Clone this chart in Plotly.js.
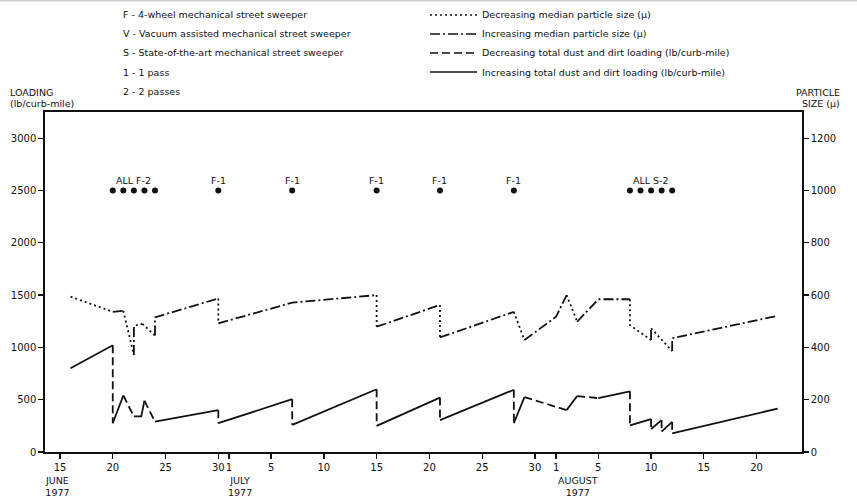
<!DOCTYPE html>
<html><head><meta charset="utf-8">
<script src="https://cdn.plot.ly/plotly-3.0.1.min.js"></script>
<style>html,body{margin:0;padding:0;background:#fff}</style>
</head><body><div id="chart" style="width:857px;height:499px"></div>
<script>
// x = days counted from June 1, 1977 (June d = d, July d = 30+d, August d = 61+d)
const tickDays = [15,20,25,30,31,35,40,45,50,55,60,62,66,71,76,81];
const tickLabels = ["15","20","25","30","1","5","10","15","20","25","30","1","5","10","15","20"];
const monthDays = [14.8, 32.1, 64.1];
const monthLabels = ["JUNE<br>1977","JULY<br>1977","AUGUST<br>1977"];

// Total dust and dirt loading (lb/curb-mile)
const loadDays   = [16, 20, 20, 21, 22, 22.7, 23, 24, 30, 30, 37, 37, 45, 45, 51, 51, 58, 58, 59, 63, 64, 66, 69, 69, 71, 71, 72, 72, 73, 73, 83];
const loadValues = [800, 1020, 275, 540, 340, 340, 490, 290, 400, 275, 505, 260, 600, 250, 520, 305, 595, 275, 525, 400, 535, 515, 580, 255, 315, 220, 305, 195, 288, 178, 415];

// Median particle size (micron)
const sizeDays   = [16, 20, 21, 22, 22, 22.8, 24, 24, 30, 30, 37, 45, 45, 51, 51, 58, 59, 62, 63, 64, 66, 69, 69, 71, 71, 73, 73, 83];
const sizeValues = [594, 536, 540, 371, 482, 490, 445, 515, 587, 492, 571, 600, 479, 562, 438, 536, 428, 517, 600, 498, 584, 584, 485, 428, 473, 386, 435, 521];

// Sweeping events
const sweepDays = [20,21,22,23,24,30,37,45,51,58,69,70,71,72,73];
const sweepLevel = 2500;
const sweepLabelDays = [22,30,37,45,51,58,71];
const sweepLabels = ["ALL F-2","F-1","F-1","F-1","F-1","F-1","ALL S-2"];

const keyLeft = ["F - 4-wheel mechanical street sweeper","V - Vacuum assisted mechanical street sweeper","S - State-of-the-art mechanical street sweeper","1 - 1 pass","2 - 2 passes"];
const keyRight = ["Decreasing median particle size (\u03bc)","Increasing median particle size (\u03bc)","Decreasing total dust and dirt loading (lb/curb-mile)","Increasing total dust and dirt loading (lb/curb-mile)"];

const INK = '#111';
const FONT = 'DejaVu Sans, Verdana, sans-serif';
const DOT = '2px,3px', DASHDOT = '10px,3px,2px,3px', DASH = '8px,4px';
const keyDash = [DOT, DASHDOT, DASH, 'solid'];

function split(xs, ys, rising){
  const X=[],Y=[];
  for(let i=0;i<xs.length-1;i++){
    const up = ys[i+1] >= ys[i];
    if(up !== rising) continue;
    const n = X.length;
    if(n && X[n-1]===xs[i] && Y[n-1]===ys[i]){ X.push(xs[i+1]); Y.push(ys[i+1]); }
    else { if(n){X.push(null);Y.push(null);} X.push(xs[i],xs[i+1]); Y.push(ys[i],ys[i+1]); }
  }
  return {X,Y};
}

const sizeDown = split(sizeDays, sizeValues, false);
const sizeUp = split(sizeDays, sizeValues, true);
const loadDown = split(loadDays, loadValues, false);
const loadUp = split(loadDays, loadValues, true);

const lw = 1.8;
const traces = [
  {x:sizeDown.X, y:sizeDown.Y, yaxis:'y2', mode:'lines', name:keyRight[0], line:{color:INK,width:lw,dash:DOT}, connectgaps:false},
  {x:sizeUp.X, y:sizeUp.Y, yaxis:'y2', mode:'lines', name:keyRight[1], line:{color:INK,width:lw,dash:DASHDOT}, connectgaps:false},
  {x:loadDown.X, y:loadDown.Y, mode:'lines', name:keyRight[2], line:{color:INK,width:lw,dash:DASH}, connectgaps:false},
  {x:loadUp.X, y:loadUp.Y, mode:'lines', name:keyRight[3], line:{color:INK,width:lw,dash:'solid'}, connectgaps:false},
  {x:sweepDays, y:sweepDays.map(()=>sweepLevel), mode:'markers', name:'Sweeping', marker:{color:INK,size:6}}
];

const W=857,H=499,M={l:45,r:55,t:112,b:47};
const PW=W-M.l-M.r, PH=H-M.t-M.b;
const px = x => (x-M.l)/PW;
const py = y => (H-M.b-y)/PH;

const txt = {family:FONT,size:9.5,color:INK};
const annotations = [];
const shapes = [];
keyLeft.forEach((t,i)=>annotations.push({xref:'paper',yref:'paper',x:px(121),y:py(15+19*i),xanchor:'left',yanchor:'middle',text:t,showarrow:false,font:txt}));
keyRight.forEach((t,i)=>{
  annotations.push({xref:'paper',yref:'paper',x:px(480),y:py(15+19*i),xanchor:'left',yanchor:'middle',text:t,showarrow:false,font:txt});
  shapes.push({type:'line',xref:'paper',yref:'paper',x0:px(430),x1:px(477),y0:py(15+19*i),y1:py(15+19*i),line:{color:INK,width:1.5,dash:keyDash[i]}});
});
annotations.push({xref:'paper',yref:'paper',x:px(8),y:py(92),xanchor:'left',yanchor:'middle',text:'LOADING',showarrow:false,font:txt});
annotations.push({xref:'paper',yref:'paper',x:px(8),y:py(103),xanchor:'left',yanchor:'middle',text:'(lb/curb-mile)',showarrow:false,font:txt});
annotations.push({xref:'paper',yref:'paper',x:px(842),y:py(92),xanchor:'right',yanchor:'middle',text:'PARTICLE',showarrow:false,font:txt});
annotations.push({xref:'paper',yref:'paper',x:px(842),y:py(103),xanchor:'right',yanchor:'middle',text:'SIZE (\u03bc)',showarrow:false,font:txt});
monthDays.forEach((d,i)=>annotations.push({xref:'x',yref:'paper',x:d,y:0,yshift:-21,xanchor:'center',yanchor:'top',text:monthLabels[i],showarrow:false,font:txt}));
sweepLabelDays.forEach((d,i)=>annotations.push({xref:'x',yref:'y',x:d,y:sweepLevel,yshift:10,xanchor:'center',yanchor:'middle',text:sweepLabels[i],showarrow:false,font:txt}));
shapes.push({type:'line',xref:'paper',yref:'paper',x0:px(0),x1:px(W),y0:py(0.5),y1:py(0.5),line:{color:'#cfcfcf',width:2}});

const axisFont = {family:FONT,size:10,color:INK};
const common = {tickmode:'array',ticks:'outside',ticklen:5,tickwidth:1.3,tickcolor:INK,showline:true,linecolor:INK,linewidth:1.7,showgrid:false,zeroline:false,tickfont:axisFont,tickangle:0};
const layout = {
  width:W,height:H,margin:M,paper_bgcolor:'#fff',plot_bgcolor:'#fff',showlegend:false,
  xaxis:Object.assign({range:[13.58,85.3],tickvals:tickDays,ticktext:tickLabels,mirror:true},common),
  yaxis:Object.assign({range:[0,3250],tickvals:[0,500,1000,1500,2000,2500,3000],mirror:true},common),
  yaxis2:Object.assign({overlaying:'y',side:'right',range:[0,1300],tickvals:[0,200,400,600,800,1000,1200]},common),
  annotations, shapes
};
Plotly.newPlot('chart', traces, layout, {displayModeBar:false,staticPlot:true});
</script></body></html>
